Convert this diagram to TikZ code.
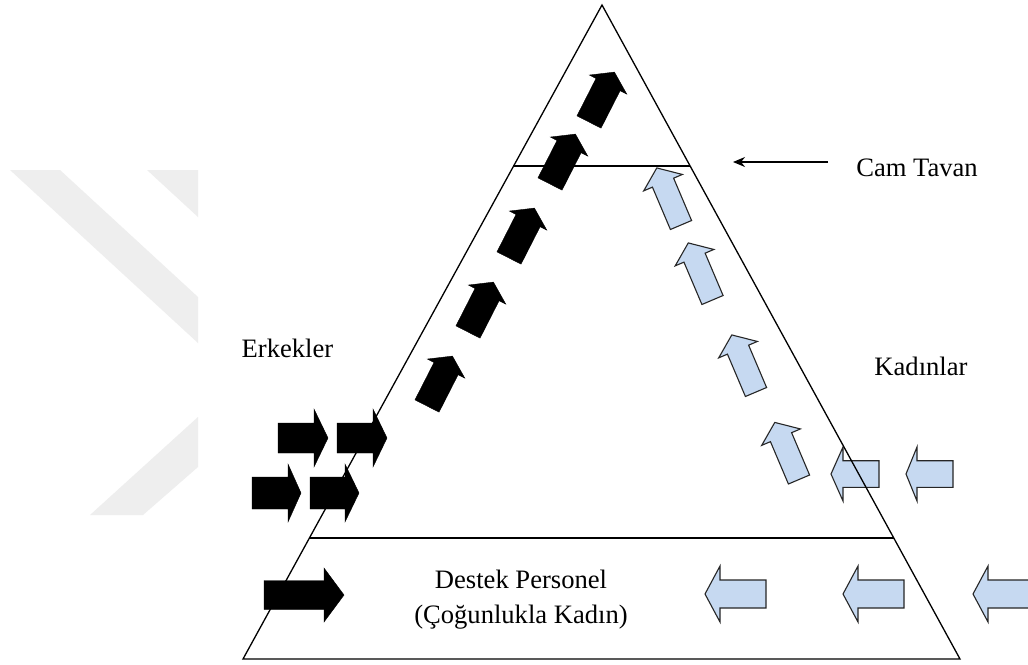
\documentclass[tikz,border=0pt]{standalone}
\usepackage{fontspec}
\setmainfont{Liberation Serif}
\usetikzlibrary{arrows.meta}
\definecolor{wm}{HTML}{EEEEEE}
\definecolor{lblue}{HTML}{C6D9F1}
\tikzset{
  pics/blockarrow/.style n args={5}{code={
    \path[#5] (0,-#3) -- (#1,-#3) -- (#1,-#4) -- ({#1+#2},0) -- (#1,#4) -- (#1,#3) -- (0,#3) -- cycle;
  }},
  blackarr/.style={fill=black, draw=black, line width=0.4pt, line join=miter},
  bluearr/.style={fill=lblue, draw=black!85, line width=1.1pt, line join=miter},
  triline/.style={draw=black, line width=1.3pt},
  levelline/.style={draw=black, line width=1.8pt},
  lbl/.style={font=\fontsize{26.6}{30}\selectfont, anchor=base, inner sep=0pt}
}
\begin{document}
\begin{tikzpicture}[x=1pt, y=-1pt]
\useasboundingbox (0,0) rectangle (1028,664);
\fill[white] (0,0) rectangle (1028,664);
\clip (0,0) rectangle (1028,664);
% watermark
\fill[wm] (10,170) -- (60,170) -- (198,297) -- (198,343) -- cycle;
\fill[wm] (147,170) -- (198,170) -- (198,217) -- cycle;
\fill[wm] (90,515) -- (143,515) -- (198,467) -- (198,417) -- cycle;
% coordinates
\coordinate (apex) at (602,5);
\coordinate (bl) at (243,659);
\coordinate (br) at (960,659);
\coordinate (gL) at (513,166);
\coordinate (gR) at (690,166);
\coordinate (sL) at (309,538);
\coordinate (sR) at (894,538);
\coordinate (ctA) at (828,162);
\coordinate (ctB) at (733,162);
% black horizontal arrows
\pic at (278,438) {blockarrow={36}{14}{15}{29}{blackarr}};
\pic at (337,438) {blockarrow={36}{14}{15}{29}{blackarr}};
\pic at (252,493) {blockarrow={36}{13}{16}{29}{blackarr}};
\pic at (310,493) {blockarrow={35}{14}{16}{29}{blackarr}};
\pic at (264,595) {blockarrow={60}{20}{14.5}{27}{blackarr}};
% black diagonal arrows
\foreach \p in {(589,122),(550,184),(509,258),(468,332),(427,406)}
  \pic[rotate=63] at \p {blockarrow={42}{14}{13.5}{21}{blackarr}};
% blue diagonal arrows
\foreach \p in {(681,225),(712.5,300),(756,392),(799,479.5)}
  \pic[rotate=113] at \p {blockarrow={46}{16}{11.5}{21}{bluearr}};
% blue horizontal arrows
\pic[rotate=180] at (879,474) {blockarrow={36}{12}{13.3}{27}{bluearr}};
\pic[rotate=180] at (953,474) {blockarrow={36}{11}{13.3}{27}{bluearr}};
\pic[rotate=180] at (766,594) {blockarrow={46}{15}{14}{28}{bluearr}};
\pic[rotate=180] at (904,594) {blockarrow={46}{15}{14}{28}{bluearr}};
\pic[rotate=180] at (1034,594) {blockarrow={46}{15}{14}{28}{bluearr}};
% triangle and levels
\draw[triline, line join=miter] (apex) -- (bl) -- (br) -- cycle;
\draw[levelline] (gL) -- (gR);
\draw[levelline] (sL) -- (sR);
% glass ceiling pointer
\draw[line width=1.3pt, -{Stealth[length=12pt,width=10pt]}] (ctA) -- (ctB);
% labels
\node[lbl] (cam) at (917,176) {Cam Tavan};
\node[lbl] (kad) at (921,375) {Kadınlar};
\node[lbl] (erk) at (287.5,357) {Erkekler};
\node[lbl] (dest) at (521,588) {Destek Personel};
\node[lbl] (cog) at (521,623) {(Çoğunlukla Kadın)};
\end{tikzpicture}
\end{document}
